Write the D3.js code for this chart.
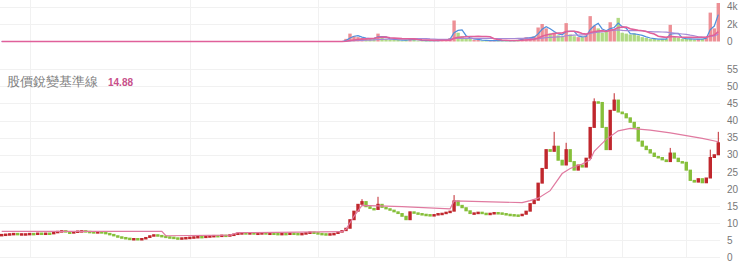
<!DOCTYPE html>
<html>
<head>
<meta charset="utf-8">
<script src="https://cdn.jsdelivr.net/npm/d3@7"></script>
<style>
  body { margin: 0; background: #fff; font-family: "Liberation Sans", Arial, sans-serif; }
</style>
</head>
<body>
<div id="chart"></div>
<script>
// closing prices, one per candle (oldest first)
const closes = [
  6.7, 6.8, 6.9, 7.0, 6.8, 6.9, 6.9, 7.0, 6.9, 7.1, 7.0, 7.1, 7.0, 7.3, 7.6, 7.8, 7.4, 7.3, 7.5, 7.7,
  7.8, 7.6, 7.5, 7.4, 7.5, 7.3, 7.0, 6.7, 6.3, 6.0, 5.8, 5.6, 5.4, 5.5, 5.3, 5.5, 5.8, 6.3, 6.6, 6.4,
  6.2, 6.0, 5.9, 5.7, 5.6, 5.7, 5.8, 5.9, 6.0, 6.1, 6.0, 6.2, 6.3, 6.4, 6.3, 6.5, 6.4, 6.6, 6.8, 7.1,
  7.2, 7.1, 7.2, 7.0, 7.1, 7.2, 7.0, 7.1, 7.0, 6.9, 7.0, 6.9, 7.1, 7.0, 6.9, 7.0, 7.2, 7.4, 7.2, 7.0,
  6.9, 6.8, 6.9, 7.0, 7.4, 7.8, 8.5, 11.0, 13.5, 15.5, 16.3, 14.8, 14.3, 14.0, 15.5, 14.6, 14.2, 13.8, 13.3, 12.8,
  12.0, 11.0, 13.3, 13.0, 12.8, 12.6, 12.5, 12.3, 12.5, 12.8, 12.9, 13.2, 13.5, 16.5, 15.2, 14.5, 13.6, 12.8, 13.0, 13.2,
  12.9, 12.8, 12.9, 13.1, 13.0, 12.8, 12.6, 12.5, 12.4, 12.3, 12.6, 13.5, 15.7, 16.7, 21.7, 26.0, 31.5, 31.0, 32.5, 28.4,
  27.0, 31.5, 28.0, 25.5, 27.0, 26.4, 29.0, 38.0, 45.5, 45.3, 38.0, 31.5, 43.0, 46.0, 42.5, 42.0, 40.8, 39.5, 38.0, 34.0,
  32.5, 31.5, 30.5, 29.5, 29.2, 28.5, 28.0, 30.5, 29.0, 28.0, 27.8, 25.5, 22.5, 22.0, 23.0, 21.8, 23.2, 29.2, 30.0, 33.5
];

// a few intraday highs that stick out above the bodies
const spikeIdx  = [90, 94, 113, 138, 141, 148, 153, 167, 177, 179];
const spikeHigh = [17.0, 17.7, 18.2, 36.7, 33.5, 46.5, 48.0, 32.0, 31.5, 36.7];

// volume in thousands, same order as closes
const volume = [
  0, 0, 0, 0, 0, 0, 0, 0, 0, 0, 0, 0, 0, 0, 0, 0, 0, 0, 0, 0,
  0, 0, 0, 0, 0, 0, 0, 0, 0, 0, 0, 0, 0, 0, 0, 0, 0, 0, 0, 0,
  0, 0, 0, 0, 0, 0, 0, 0, 0, 0, 0, 0, 0, 0, 0, 0, 0, 0, 0, 0,
  0, 0, 0, 0, 0, 0, 0, 0, 0, 0, 0, 0, 0, 0, 0, 0, 0, 0, 0, 0,
  0, 0, 0, 0, 0, 0, 0.3, 0.9, 0.6, 0.5, 0.4, 0.3, 0.3, 0.4, 0.9, 0.4, 0.3, 0.2, 0.2, 0.2,
  0.1, 0.2, 0.3, 0.2, 0.1, 0.1, 0.1, 0.1, 0.1, 0.1, 0.2, 0.2, 0.4, 2.4, 1.0, 0.6, 0.4, 0.3, 0.2, 0.2,
  0.1, 0.1, 0.1, 0.1, 0.1, 0.1, 0.1, 0.1, 0.1, 0.2, 0.4, 0.5, 0.4, 0.6, 1.6, 2.0, 1.5, 0.9, 1.0, 0.7,
  0.6, 2.1, 0.8, 0.6, 0.5, 0.5, 0.7, 2.9, 1.8, 1.5, 1.0, 1.2, 2.2, 1.4, 2.7, 1.0, 0.9, 0.8, 0.9, 0.7,
  0.5, 0.4, 0.3, 0.3, 0.2, 0.3, 0.3, 1.9, 0.5, 0.4, 0.3, 0.3, 0.3, 0.2, 0.3, 0.3, 0.5, 3.3, 1.5, 4.4
];

// 股價銳變基準線 : candle index -> level
const baseIdx = [0, 40, 41, 57, 59, 85, 86, 88, 90, 100, 112, 113, 130, 132, 134, 137, 140, 142, 145, 147, 148, 151, 154, 157, 162, 167, 171, 175, 179];
const baseVal = [7.6, 7.6, 6.3, 6.5, 7.2, 7.5, 8.2, 12.0, 15.2, 14.8, 14.2, 16.5, 16.0, 16.6, 17.3, 19.5, 24.5, 26.0, 27.3, 28.5, 31.0, 34.5, 37.0, 37.7, 37.2, 36.4, 35.6, 34.8, 33.8];

// candle indexes where the period grid lines fall
const gridIdx = [7, 47, 79, 108, 141, 155, 171];

const priceTicks = d3.range(0, 56, 5);
const volTicks = [0, 2, 4];
const baseLabel = '股價銳變基準線';
const baseNow = '14.88';

const width = 740, height = 265;
const upColor = '#c0272d', downColor = '#86bf3a';

const candles = closes.map((c, i) => {
  const o = i === 0 ? c : closes[i - 1];
  const k = spikeIdx.indexOf(i);
  const hi = k >= 0 ? spikeHigh[k] : Math.max(o, c);
  return { i, open: o, close: c, high: hi, low: Math.min(o, c), vol: volume[i] };
});

function movingAvg(arr, n) {
  return arr.map((v, i) => d3.mean(arr.slice(Math.max(0, i - n + 1), i + 1)));
}

const svg = d3.select('#chart').append('svg')
  .attr('width', width)
  .attr('height', height);

const x = d3.scaleBand()
  .domain(d3.range(closes.length))
  .range([0, 720])
  .paddingInner(0.15);
const xc = (i) => x(i) + x.bandwidth() / 2;

const yP = d3.scaleLinear().domain([0, 55]).range([257.3, 69.3]);
const yV = d3.scaleLinear().domain([0, 4]).range([41.5, 6.5]);

// grids
const grid = svg.append('g').attr('stroke', '#f1f1f1').attr('stroke-width', 1);
grid.selectAll('line.hp').data(priceTicks).join('line')
  .attr('x1', 0).attr('x2', 720)
  .attr('y1', (d) => Math.round(yP(d)) + 0.5).attr('y2', (d) => Math.round(yP(d)) + 0.5);
grid.selectAll('line.hv').data(volTicks.slice(1)).join('line')
  .attr('x1', 0).attr('x2', 720)
  .attr('y1', (d) => Math.round(yV(d)) + 0.5).attr('y2', (d) => Math.round(yV(d)) + 0.5);
grid.selectAll('line.v').data(gridIdx).join('line')
  .attr('x1', (d) => Math.round(xc(d)) + 0.5).attr('x2', (d) => Math.round(xc(d)) + 0.5)
  .attr('y1', 0).attr('y2', 258);

// right axes
const axP = svg.append('g')
  .attr('transform', 'translate(725,0)')
  .call(d3.axisRight(yP).tickValues(priceTicks).tickSize(0).tickPadding(2));
const axV = svg.append('g')
  .attr('transform', 'translate(725,0)')
  .call(d3.axisRight(yV).tickValues(volTicks).tickSize(0).tickPadding(2)
    .tickFormat((d) => (d ? d + 'k' : '0')));
[axP, axV].forEach((a) => {
  a.select('.domain').remove();
  a.selectAll('text').attr('fill', '#777').style('font-size', '10px')
    .style('font-family', '"Liberation Sans", Arial, sans-serif');
});

// volume bars
svg.append('g').selectAll('rect').data(candles.filter((d) => d.vol > 0)).join('rect')
  .attr('x', (d) => x(d.i))
  .attr('width', x.bandwidth())
  .attr('y', (d) => yV(d.vol))
  .attr('height', (d) => yV(0) - yV(d.vol))
  .attr('fill', (d) => (d.close >= d.open ? '#ea7d84' : '#a3d46e'))
  .attr('opacity', 0.85);

// volume averages (pink drawn last so it sits on top along the zero line)
const volLine = d3.line().x((d, i) => xc(i)).y((d) => yV(d));
[[3, '#4f8fdc', 1.2], [20, '#a58ad6', 1.2], [10, '#e0609a', 1.6]].forEach(([n, col, w]) => {
  svg.append('path')
    .datum(movingAvg(volume, n))
    .attr('d', volLine)
    .attr('fill', 'none')
    .attr('stroke', col)
    .attr('stroke-width', w);
});

// label
const lab = svg.append('text').attr('x', 7).attr('y', 86).style('font-size', '13px');
lab.append('tspan').attr('fill', '#808080').text(baseLabel);
lab.append('tspan').attr('x', 108).attr('fill', '#c8508a').style('font-weight', 'bold')
  .style('font-size', '10px').text(baseNow);

// candles
const cg = svg.append('g');
cg.selectAll('line').data(candles).join('line')
  .attr('x1', (d) => xc(d.i)).attr('x2', (d) => xc(d.i))
  .attr('y1', (d) => yP(d.high)).attr('y2', (d) => yP(d.low))
  .attr('stroke', (d) => (d.close >= d.open ? upColor : downColor));
cg.selectAll('rect').data(candles).join('rect')
  .attr('x', (d) => x(d.i))
  .attr('width', x.bandwidth())
  .attr('y', (d) => yP(Math.max(d.open, d.close)) - 0.5)
  .attr('height', (d) => Math.max(2.5, yP(Math.min(d.open, d.close)) - yP(Math.max(d.open, d.close)) + 1))
  .attr('fill', (d) => (d.close >= d.open ? upColor : downColor));

// baseline
svg.append('path')
  .datum(baseIdx.map((d, k) => [d, baseVal[k]]))
  .attr('d', d3.line().x((d) => xc(d[0])).y((d) => yP(d[1])))
  .attr('fill', 'none')
  .attr('stroke', '#e07aa0')
  .attr('stroke-width', 1.2);
</script>
</body>
</html>
